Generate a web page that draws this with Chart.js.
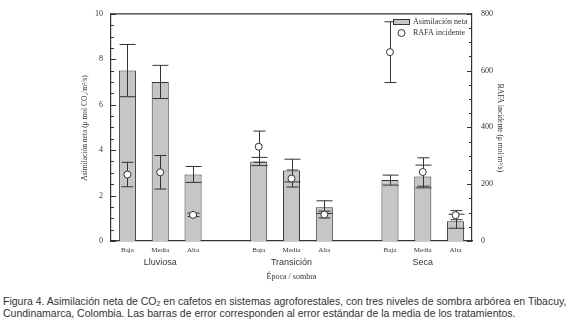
<!DOCTYPE html>
<html>
<head>
<meta charset="utf-8">
<script src="https://cdn.jsdelivr.net/npm/chart.js@4.4.0/dist/chart.umd.min.js"></script>
<style>
  html, body { margin: 0; padding: 0; background: #fff; }
  #wrap { position: absolute; left: 0; top: 0; width: 580px; height: 288px; }
  #caption {
    position: absolute; left: 3px; top: 295px; width: 577px;
    font-family: "Liberation Sans", Arial, sans-serif; font-size: 10.5px;
    line-height: 12px; color: #333; white-space: nowrap;
  }
  #caption sub { font-size: 7px; vertical-align: -1px; line-height: 0; }
</style>
</head>
<body>
<div id="wrap"><canvas id="chart" width="580" height="288"></canvas></div>
<div id="caption">Figura 4. Asimilación neta de CO<sub>2</sub> en cafetos en sistemas agroforestales, con tres niveles de sombra arbórea en Tibacuy,<br>Cundinamarca, Colombia. Las barras de error corresponden al error estándar de la media de los tratamientos.</div>
<script>
// Categories (empty slots separate the seasons)
const shade = ['Baja', 'Media', 'Alta', '', 'Baja', 'Media', 'Alta', '', 'Baja', 'Media', 'Alta'];
const seasons = ['Lluviosa', 'Transición', 'Seca'];
const seasonCenter = [1, 5, 9];

// Asimilación neta (left axis) and its standard error
const asimilacion = [7.5, 7.0, 2.93, null, 3.5, 3.1, 1.49, null, 2.68, 2.84, 0.87];
const asimErr = [1.15, 0.73, 0.35, null, 0.18, 0.5, 0.28, null, 0.22, 0.5, 0.31];

// RAFA incidente (right axis) and its standard error
const rafa = [234, 242, 92, null, 332, 220, 93, null, 665, 243, 91];
const rafaErr = [43, 59, 6, null, 55, 30, 12, null, 107, 50, 16];

const serif = '"Liberation Serif", "Times New Roman", serif';
const sans = '"Liberation Sans", Arial, sans-serif';
const ink = '#333';

// Error bars, axis ticks, box, labels and legend
const extras = {
  id: 'extras',
  beforeDatasetDraw(chart, args) {
    if (args.index !== 1) return;
    const ctx = chart.ctx;
    const x = chart.scales.x, y = chart.scales.y, y2 = chart.scales.y2;
    ctx.save();
    ctx.strokeStyle = ink;
    ctx.lineWidth = 1;
    function errBar(px, val, err, scale, half) {
      const top = scale.getPixelForValue(val + err);
      const bot = scale.getPixelForValue(val - err);
      ctx.beginPath();
      ctx.moveTo(px, top); ctx.lineTo(px, bot);
      ctx.moveTo(px - half, top); ctx.lineTo(px + half, top);
      ctx.moveTo(px - half, bot); ctx.lineTo(px + half, bot);
      ctx.stroke();
    }
    for (let i = 0; i < shade.length; i++) {
      const px = Math.round(x.getPixelForValue(i)) + 0.5;
      if (asimilacion[i] != null) errBar(px, asimilacion[i], asimErr[i], y, 8);
      if (rafa[i] != null) errBar(px, rafa[i], rafaErr[i], y2, 6);
    }
    ctx.restore();
  },
  afterDraw(chart) {
    const ctx = chart.ctx;
    const a = chart.chartArea;
    const x = chart.scales.x, y = chart.scales.y, y2 = chart.scales.y2;
    ctx.save();
    ctx.strokeStyle = ink;
    ctx.fillStyle = ink;

    // top border of the box
    ctx.lineWidth = 1.2;
    ctx.beginPath();
    ctx.moveTo(a.left, a.top); ctx.lineTo(a.right, a.top);
    ctx.stroke();

    // inward tick marks
    ctx.lineWidth = 1;
    ctx.beginPath();
    for (let v = 0; v <= 10.001; v += 0.5) {
      const py = Math.round(y.getPixelForValue(v)) + 0.5;
      const len = (Math.abs(v % 2) < 0.01) ? 5 : 3;
      ctx.moveTo(a.left, py); ctx.lineTo(a.left + len, py);
    }
    for (let v = 0; v <= 800; v += 50) {
      const py = Math.round(y2.getPixelForValue(v)) + 0.5;
      const len = (v % 200 === 0) ? 5 : 3;
      ctx.moveTo(a.right, py); ctx.lineTo(a.right - len, py);
    }
    ctx.stroke();

    // season labels
    ctx.textAlign = 'center';
    ctx.textBaseline = 'middle';
    ctx.font = '9px ' + sans;
    seasons.forEach((s, k) => {
      ctx.fillText(s, x.getPixelForValue(seasonCenter[k]), 263);
    });
    ctx.font = '8px ' + serif;
    ctx.fillText('Época / sombra', (a.left + a.right) / 2, 277);

    // axis titles
    ctx.save();
    ctx.translate(85, 128);
    ctx.rotate(-Math.PI / 2);
    ctx.font = '7.5px ' + serif;
    ctx.fillText('Asimilación neta (μ mol CO₂/m²/s)', 0, 0);
    ctx.restore();
    ctx.save();
    ctx.translate(500, 128);
    ctx.rotate(Math.PI / 2);
    ctx.font = '7.5px ' + serif;
    ctx.fillText('RAFA incidente (μ mol/m²/s)', 0, 0);
    ctx.restore();

    // legend
    ctx.fillStyle = '#c6c6c6';
    ctx.fillRect(393.5, 19.5, 16, 5);
    ctx.strokeRect(393.5, 19.5, 16, 5);
    ctx.beginPath();
    ctx.arc(401.5, 33, 3.5, 0, Math.PI * 2);
    ctx.fillStyle = '#fff';
    ctx.fill();
    ctx.stroke();
    ctx.fillStyle = ink;
    ctx.textAlign = 'left';
    ctx.font = '8px ' + serif;
    ctx.fillText('Asimilación neta', 413, 22);
    ctx.fillText('RAFA incidente', 413, 33);
    ctx.restore();
  }
};

const ctx = document.getElementById('chart').getContext('2d');
new Chart(ctx, {
  type: 'bar',
  data: {
    labels: shade,
    datasets: [{
      label: 'Asimilación neta',
      data: asimilacion,
      yAxisID: 'y',
      backgroundColor: '#c6c6c6',
      borderColor: ink,
      borderWidth: 1,
      barPercentage: 0.52,
      categoryPercentage: 1,
      order: 1
    }, {
      type: 'line',
      label: 'RAFA incidente',
      data: rafa,
      yAxisID: 'y2',
      showLine: false,
      pointRadius: 3.5,
      pointBackgroundColor: '#fff',
      pointBorderColor: ink,
      pointBorderWidth: 1,
      order: 0
    }]
  },
  options: {
    responsive: false,
    animation: false,
    layout: { padding: { top: 10, left: 0, right: 0, bottom: 0 } },
    plugins: { legend: { display: false }, tooltip: { enabled: false } },
    scales: {
      x: {
        grid: { display: false, drawTicks: false },
        border: { display: true, color: ink, width: 1.2 },
        ticks: { color: ink, font: { family: serif, size: 7 }, padding: 5, maxRotation: 0, autoSkip: false },
        afterFit(scale) { scale.height = 47; }
      },
      y: {
        position: 'left',
        min: 0, max: 10,
        grid: { display: false, drawTicks: false },
        border: { display: true, color: ink, width: 1.2 },
        ticks: { stepSize: 2, color: ink, font: { family: serif, size: 8 }, padding: 8 },
        afterFit(scale) { scale.width = 111; }
      },
      y2: {
        position: 'right',
        min: 0, max: 800,
        grid: { display: false, drawTicks: false },
        border: { display: true, color: ink, width: 1.2 },
        ticks: { stepSize: 200, color: ink, font: { family: serif, size: 8 }, padding: 9 },
        afterFit(scale) { scale.width = 108; }
      }
    }
  },
  plugins: [extras]
});
</script>
</body>
</html>
